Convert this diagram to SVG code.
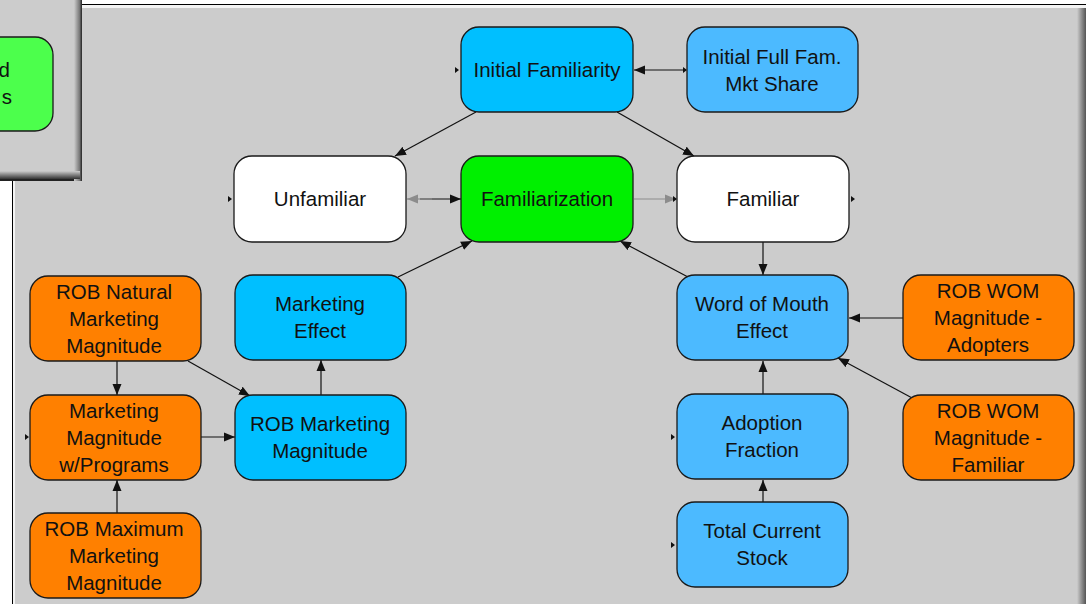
<svg xmlns="http://www.w3.org/2000/svg" width="1086" height="604" viewBox="0 0 1086 604">
<style>
.n rect{stroke:#1a1a1a;stroke-width:1.3}
.n text{font-family:"Liberation Sans",Arial,sans-serif;font-size:20.5px;fill:#111;text-anchor:middle}
.blue{fill:#00bfff}
.lblue{fill:#4cbaff}
.org{fill:#ff8000}
.wht{fill:#ffffff}
.grn{fill:#00f000}
.c line{stroke:#111;stroke-width:1.2}
.c line.g{stroke:#8c8c8c}
.tri{fill:#111}
</style>
<defs>
<marker id="ah" markerUnits="userSpaceOnUse" markerWidth="12" markerHeight="10" refX="11" refY="5" orient="auto"><path d="M0,0.5 L11,5 L0,9.5 Z" fill="#111"/></marker>
<marker id="ag" markerUnits="userSpaceOnUse" markerWidth="12" markerHeight="10" refX="11" refY="5" orient="auto"><path d="M0,0.5 L11,5 L0,9.5 Z" fill="#8c8c8c"/></marker>
<linearGradient id="rs" x1="0" x2="1" y1="0" y2="0"><stop offset="0" stop-color="#cccccc"/><stop offset="1" stop-color="#555"/></linearGradient>
<linearGradient id="bs" x1="0" x2="0" y1="0" y2="1"><stop offset="0" stop-color="#cccccc"/><stop offset="1" stop-color="#333"/></linearGradient>
<linearGradient id="rs2" x1="0" x2="1" y1="0" y2="0"><stop offset="0" stop-color="#cccccc"/><stop offset="0.7" stop-color="#777"/><stop offset="1" stop-color="#222"/></linearGradient>
<clipPath id="cw"><rect x="0" y="0" width="76" height="175"/></clipPath>
</defs>
<rect width="1086" height="604" fill="#ffffff"/>
<g id="window">
<rect x="12" y="4" width="1074" height="600" fill="#000"/>
<rect x="13" y="5" width="1073" height="599" fill="#f4f4f4"/>
<rect x="15" y="8" width="1071" height="596" fill="#cccccc"/>
<rect x="1077" y="8" width="9" height="596" fill="url(#rs)"/>
</g>
<g id="sidewindow">
<rect x="0" y="0" width="82" height="181" fill="#222"/>
<rect x="0" y="0" width="80" height="177" fill="#cccccc"/>
<rect x="74" y="0" width="8" height="181" fill="url(#rs2)"/>
<rect x="0" y="171" width="80" height="8" fill="url(#bs)"/>
<g clip-path="url(#cw)">
<g id="partial-node" class="n"><rect x="-120" y="37" width="173" height="94" rx="18" fill="#4cff4c"/><text x="10" y="77" style="text-anchor:end">d</text><text x="12" y="104" style="text-anchor:end">s</text></g>
</g>
</g>
<g id="connectors" class="c">
<line x1="686" y1="70" x2="634" y2="70" marker-end="url(#ah)"/>
<line x1="476" y1="112" x2="395" y2="156" marker-end="url(#ah)"/>
<line x1="617" y1="112" x2="694" y2="156" marker-end="url(#ah)"/>
<line x1="420" y1="199" x2="461" y2="199" marker-end="url(#ah)"/>
<line class="g" x1="432" y1="199" x2="407" y2="199" marker-end="url(#ag)"/>
<line class="g" x1="634" y1="199" x2="676" y2="199" marker-end="url(#ag)"/>
<line x1="763" y1="242" x2="763" y2="275" marker-end="url(#ah)"/>
<line x1="398" y1="277" x2="472" y2="241" marker-end="url(#ah)"/>
<line x1="688" y1="277" x2="620" y2="241" marker-end="url(#ah)"/>
<line x1="903" y1="318" x2="849" y2="318" marker-end="url(#ah)"/>
<line x1="914" y1="399" x2="838" y2="358" marker-end="url(#ah)"/>
<line x1="763" y1="394" x2="763" y2="361" marker-end="url(#ah)"/>
<line x1="763" y1="502" x2="763" y2="480" marker-end="url(#ah)"/>
<line x1="117" y1="361" x2="117" y2="395" marker-end="url(#ah)"/>
<line x1="188" y1="361" x2="250" y2="396" marker-end="url(#ah)"/>
<line x1="201" y1="437" x2="235" y2="437" marker-end="url(#ah)"/>
<line x1="117" y1="513" x2="117" y2="480" marker-end="url(#ah)"/>
<line x1="321" y1="395" x2="321" y2="360" marker-end="url(#ah)"/>
<path class="tri" d="M455,67 L459,70 L455,73 Z M683,67 L687,70 L683,73 Z M228,196 L232,199 L228,202 Z M673,196 L677,199 L673,202 Z M851,196 L855,199 L851,202 Z M25,434 L29,437 L25,440 Z M671,434 L675,437 L671,440 Z M671,542 L675,545 L671,548 Z"/>
</g>
<g id="initial-familiarity" class="n"><rect x="461" y="27" width="172" height="85" rx="18" class="blue"/><text x="547" y="77">Initial Familiarity</text></g>
<g id="initial-full-fam" class="n"><rect x="687" y="27" width="171" height="85" rx="18" class="lblue"/><text x="772" y="64">Initial Full Fam.</text><text x="772" y="91">Mkt Share</text></g>
<g id="unfamiliar" class="n"><rect x="234" y="156" width="172" height="86" rx="18" class="wht"/><text x="320" y="206">Unfamiliar</text></g>
<g id="familiarization" class="n"><rect x="461" y="156" width="172" height="86" rx="18" class="grn"/><text x="547" y="206">Familiarization</text></g>
<g id="familiar" class="n"><rect x="677" y="156" width="172" height="86" rx="18" class="wht"/><text x="763" y="206">Familiar</text></g>
<g id="marketing-effect" class="n"><rect x="235" y="275" width="171" height="85" rx="18" class="blue"/><text x="320" y="311">Marketing</text><text x="320" y="338">Effect</text></g>
<g id="wom-effect" class="n"><rect x="677" y="275" width="171" height="85" rx="18" class="lblue"/><text x="762" y="311">Word of Mouth</text><text x="762" y="338">Effect</text></g>
<g id="rob-wom-adopters" class="n"><rect x="903" y="275" width="171" height="85" rx="18" class="org"/><text x="988" y="298">ROB WOM</text><text x="988" y="325">Magnitude -</text><text x="988" y="352">Adopters</text></g>
<g id="rob-natural" class="n"><rect x="30" y="276" width="171" height="85" rx="18" class="org"/><text x="114" y="299">ROB Natural</text><text x="114" y="326">Marketing</text><text x="114" y="353">Magnitude</text></g>
<g id="mm-programs" class="n"><rect x="30" y="395" width="171" height="85" rx="18" class="org"/><text x="114" y="418">Marketing</text><text x="114" y="445">Magnitude</text><text x="114" y="472">w/Programs</text></g>
<g id="rob-marketing" class="n"><rect x="235" y="395" width="171" height="85" rx="18" class="blue"/><text x="320" y="431">ROB Marketing</text><text x="320" y="458">Magnitude</text></g>
<g id="adoption-fraction" class="n"><rect x="677" y="394" width="171" height="85" rx="18" class="lblue"/><text x="762" y="430">Adoption</text><text x="762" y="457">Fraction</text></g>
<g id="rob-wom-familiar" class="n"><rect x="903" y="395" width="171" height="85" rx="18" class="org"/><text x="988" y="418">ROB WOM</text><text x="988" y="445">Magnitude -</text><text x="988" y="472">Familiar</text></g>
<g id="rob-maximum" class="n"><rect x="30" y="513" width="171" height="85" rx="18" class="org"/><text x="114" y="536">ROB Maximum</text><text x="114" y="563">Marketing</text><text x="114" y="590">Magnitude</text></g>
<g id="total-current-stock" class="n"><rect x="677" y="502" width="171" height="85" rx="18" class="lblue"/><text x="762" y="538">Total Current</text><text x="762" y="565">Stock</text></g>
</svg>
